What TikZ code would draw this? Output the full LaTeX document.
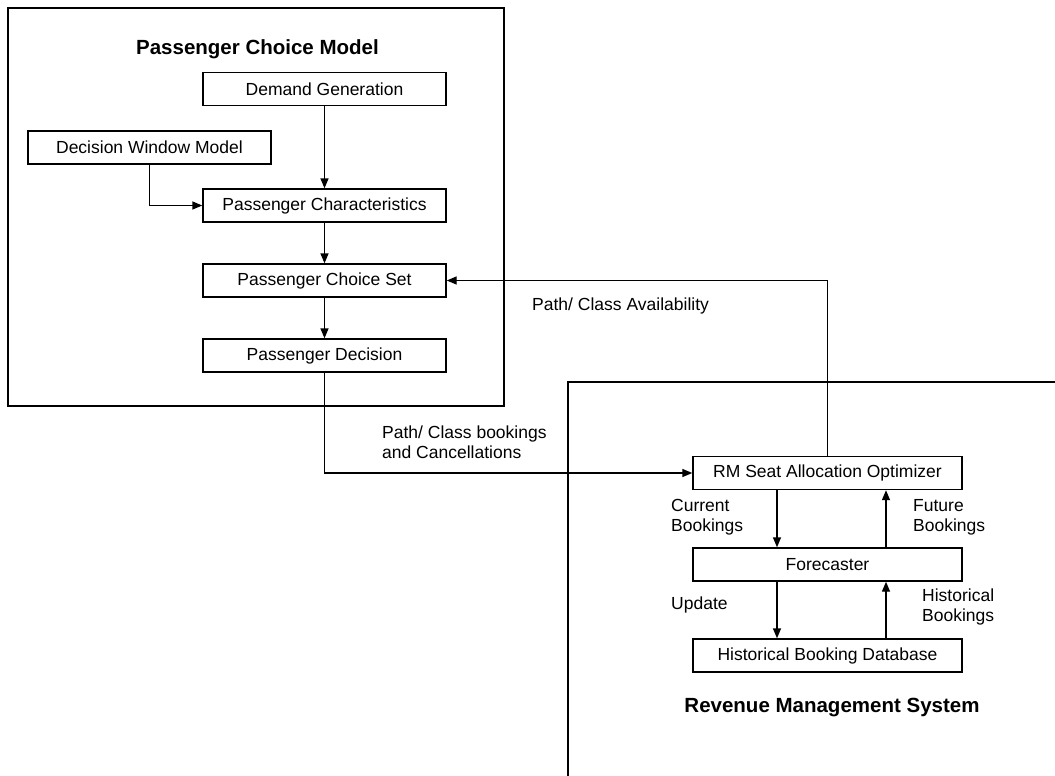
\documentclass[tikz,border=0pt]{standalone}
\usepackage{fontspec}
\setmainfont{Liberation Sans}
\usetikzlibrary{arrows.meta}

\tikzset{
  blockbox/.style={draw,line width=1.4pt,minimum width=243pt,minimum height=33pt,inner sep=0pt,font=\fontsize{17.5}{20}\selectfont},
  rmbox/.style={blockbox,minimum width=269pt},
  flow/.style={line width=1.4pt,-{Triangle[length=10pt,width=8pt]}},
  lbl/.style={anchor=west,align=left,inner sep=0pt,font=\fontsize{17.5}{20}\selectfont},
  heading/.style={font=\bfseries\fontsize{20.5}{24}\selectfont}
}

\begin{document}
\begin{tikzpicture}[x=1pt,y=-1pt]
\useasboundingbox (0,0) rectangle (1055,776);
% Passenger choice model frame
\draw[line width=1.4pt] (8,8) rectangle (504,406);
\node[heading] (pcmtitle) at (257.5,49) {Passenger Choice Model};
\node[blockbox] (dem) at (324.5,89) {Demand Generation};
\node[blockbox] (dwm) at (149.5,147.5) {Decision Window Model};
\node[blockbox] (pch) at (324.5,205.5) {Passenger Characteristics};
\node[blockbox] (pcs) at (324.5,280.5) {Passenger Choice Set};
\node[blockbox] (pdc) at (324.5,355.5) {Passenger Decision};
% Revenue management system frame (open corner)
\draw[line width=1.4pt] (568,776) -- (568,382) -- (1055,382);
\node[rmbox] (rmo) at (827.5,473) {RM Seat Allocation Optimizer};
\node[rmbox] (fcs) at (827.5,564.5) {Forecaster};
\node[rmbox] (hbd) at (827.5,655.5) {Historical Booking Database};
\node[heading] (rmstitle) at (832,708) {Revenue Management System};
% Arrows inside the choice model
\draw[flow] (dem) -- (pch);
\draw[flow] (dwm.south) |- (pch.west);
\draw[flow] (pch) -- (pcs);
\draw[flow] (pcs) -- (pdc);
% Arrows between the two systems
\draw[flow] (rmo.north) |- (pcs.east);
\draw[flow] (pdc.south) |- (rmo.west);
% Arrows inside the RM system
\draw[flow] ([xshift=-50.5pt]rmo.south) -- ([xshift=-50.5pt]fcs.north);
\draw[flow] ([xshift=58.5pt]fcs.north) -- ([xshift=58.5pt]rmo.south);
\draw[flow] ([xshift=-50.5pt]fcs.south) -- ([xshift=-50.5pt]hbd.north);
\draw[flow] ([xshift=58.5pt]hbd.north) -- ([xshift=58.5pt]fcs.south);
% Labels
\node[lbl] (avail) at (532,306) {Path/ Class Availability};
\node[lbl] (bkcan) at (382,442) {Path/ Class bookings\\and Cancellations};
\node[lbl] (curbk) at (671,517) {Current\\Bookings};
\node[lbl] (futbk) at (913,517) {Future\\Bookings};
\node[lbl] (upd) at (671,605) {Update};
\node[lbl] (histbk) at (922,607) {Historical\\Bookings};
\end{tikzpicture}
\end{document}
